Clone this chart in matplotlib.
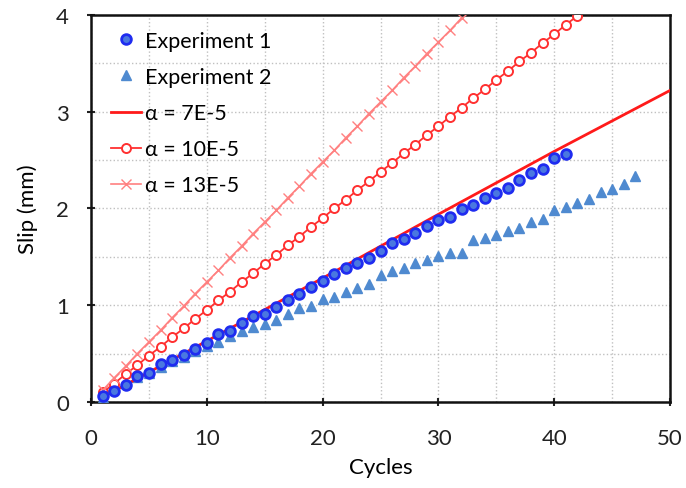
import numpy as np
import matplotlib
matplotlib.use("Agg")
import matplotlib.pyplot as plt
from matplotlib.ticker import MultipleLocator

plt.rcParams['font.family'] = ['Lato', 'DejaVu Sans']

# experiment 1 (cycles 1..41)
exp1_cycles = list(range(1, 42))
exp1_slip = [0.06, 0.11, 0.18, 0.27, 0.30, 0.39, 0.43, 0.49, 0.55, 0.61,
             0.70, 0.73, 0.82, 0.89, 0.91, 0.98, 1.05, 1.12, 1.19, 1.25,
             1.32, 1.38, 1.44, 1.49, 1.56, 1.64, 1.68, 1.75, 1.82, 1.88,
             1.91, 1.99, 2.04, 2.11, 2.16, 2.21, 2.29, 2.37, 2.41, 2.52,
             2.56]

# experiment 2 (cycles 1..47)
exp2_cycles = list(range(1, 48))
exp2_slip = [0.04, 0.15, 0.20, 0.26, 0.30, 0.36, 0.42, 0.47, 0.53, 0.58,
             0.62, 0.68, 0.73, 0.78, 0.81, 0.85, 0.91, 0.97, 0.99, 1.06,
             1.08, 1.14, 1.18, 1.22, 1.31, 1.35, 1.39, 1.44, 1.47, 1.51,
             1.54, 1.54, 1.67, 1.70, 1.73, 1.77, 1.80, 1.86, 1.89, 1.98,
             2.02, 2.06, 2.10, 2.17, 2.20, 2.25, 2.34]

# model alpha = 7E-5
a7_cycles = [1, 10, 20, 30, 40, 50]
a7_slip = [0.05, 0.63, 1.28, 1.94, 2.59, 3.22]

# model alpha = 10E-5 (cycles 1..42)
a10_cycles = list(range(1, 43))
a10_slip = [0.10, 0.19, 0.29, 0.38, 0.48, 0.57, 0.67, 0.76, 0.86, 0.95,
            1.05, 1.14, 1.24, 1.33, 1.43, 1.52, 1.62, 1.71, 1.81, 1.90,
            2.00, 2.09, 2.19, 2.28, 2.38, 2.47, 2.57, 2.66, 2.76, 2.85,
            2.95, 3.04, 3.14, 3.23, 3.33, 3.42, 3.52, 3.61, 3.71, 3.80,
            3.90, 3.99]

# model alpha = 13E-5 (cycles 1..32)
a13_cycles = list(range(1, 33))
a13_slip = [0.12, 0.25, 0.37, 0.50, 0.62, 0.74, 0.87, 0.99, 1.12, 1.24,
            1.36, 1.49, 1.61, 1.74, 1.86, 1.98, 2.11, 2.23, 2.36, 2.48,
            2.60, 2.73, 2.85, 2.98, 3.10, 3.22, 3.35, 3.47, 3.60, 3.72,
            3.84, 3.97]

fig = plt.figure(figsize=(6.86, 4.89), dpi=100)
ax = fig.add_axes([0.1327, 0.1759, 0.844, 0.7914])

ax.plot(exp1_cycles, exp1_slip, 'o', ms=7, mfc='#4a78e0', mec='#1f2cf0',
        mew=2.0, label='Experiment 1', zorder=4)
ax.plot(exp2_cycles, exp2_slip, '^', ms=6.5, color='#4f8ad0', mec='#4f8ad0',
        label='Experiment 2', zorder=3)
ax.plot(a7_cycles, a7_slip, '-', color='#ff1a1a', lw=2.0,
        label='\u03b1 = 7E-5', zorder=3)
ax.plot(a10_cycles, a10_slip, '-o', color='#ff3030', lw=1.3, ms=6.5,
        mfc='white', mec='#ff3030', mew=1.4, label='\u03b1 = 10E-5', zorder=3)
ax.plot(a13_cycles, a13_slip, '-x', color='#ff8080', lw=1.2, ms=6.5,
        mew=1.0, label='\u03b1 = 13E-5', zorder=3)

ax.set_xlim(0, 50)
ax.set_ylim(0, 4)
ax.xaxis.set_major_locator(MultipleLocator(10))
ax.xaxis.set_minor_locator(MultipleLocator(5))
ax.yaxis.set_major_locator(MultipleLocator(1))
ax.yaxis.set_minor_locator(MultipleLocator(0.5))
ax.grid(True, which='both', ls=':', color='#c0c0c0', lw=1.0)
ax.tick_params(which='major', direction='inout', length=6, width=1.5,
               labelsize=16, colors='#222222')
ax.tick_params(axis='x', which='major', pad=16)
ax.tick_params(axis='y', which='major', pad=13)
ax.tick_params(which='minor', length=0)
for s in ax.spines.values():
    s.set_linewidth(1.8)
    s.set_color('#111111')

ax.set_xlabel('Cycles', fontsize=16, labelpad=6)
ax.set_ylabel('Slip (mm)', fontsize=16, labelpad=13)

ax.legend(loc='upper left', bbox_to_anchor=(0.008, 0.998), frameon=False,
          fontsize=15.5, handlelength=1.4, handletextpad=0.2,
          labelspacing=0.75, borderaxespad=0.3)

plt.savefig('out.png', dpi=100)
